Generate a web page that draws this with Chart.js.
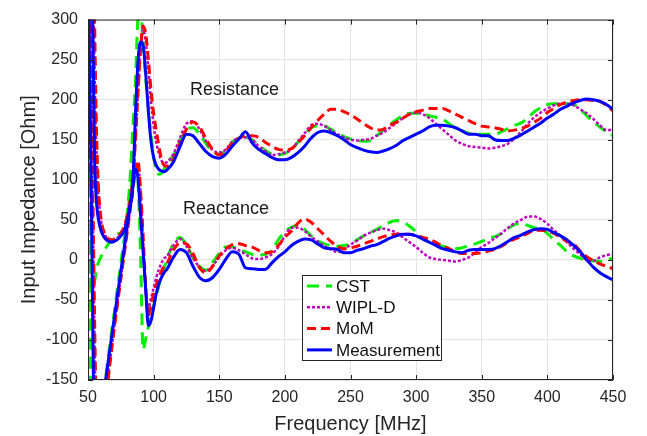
<!DOCTYPE html>
<html>
<head>
<meta charset="utf-8">
<script src="https://cdn.jsdelivr.net/npm/chart.js@4"></script>
<style>
  html, body { margin: 0; padding: 0; background: #fff; }
  #wrap { width: 647px; height: 436px; position: relative; }
</style>
</head>
<body>
<div id="wrap"><canvas id="chart"></canvas></div>
<script>
// frequency grid in MHz (finer where the curves are steep)
const freq = [50, 51, 52, 53, 54, 55, 56, 57, 58,
    60, 62, 64, 66, 68, 70, 72, 74, 76, 78, 80, 82, 84, 86, 88, 90, 92, 94, 96, 98, 100, 102, 104, 106, 108, 110,
    115, 120, 125, 130, 135, 140, 145, 150, 155, 160, 165, 170, 175, 180, 185, 190, 195, 200, 205, 210,
    215, 220, 225, 230, 235, 240, 245, 250, 255, 260, 265, 270, 275, 280, 285, 290, 295, 300, 305, 310,
    315, 320, 325, 330, 335, 340, 345, 350, 355, 360, 365, 370, 375, 380, 385, 390, 395, 400, 405, 410,
    415, 420, 425, 430, 435, 440, 445, 450];

// resistance curves
const cstR = [120, 30, -25, -38, -33, -27, -18, -9, -3,
    4, 11, 16, 21, 26, 29, 32, 33, 35, 38, 60, 100, 160, 215, 300, 315, 270, 225, 190, 155, 128, 113, 107, 108, 113, 120,
    130, 148, 162, 165, 157, 145, 135, 132, 137, 147, 152, 153, 150, 143, 137, 132, 131, 133, 138, 147,
    156, 165, 167, 167, 163, 158, 154, 151, 149, 148, 149, 155, 162, 169, 175, 180, 183, 183, 182, 180,
    178, 176, 170, 165, 161, 158, 157, 157, 157, 157, 160, 164, 168, 171, 177, 185, 190, 194, 195, 195,
    195, 194, 188, 180, 172, 166, 160, 155];
const wiplR = [190, 330, 400, 390, 330, 240, 160, 110, 80,
    48, 35, 28, 25, 24, 25, 27, 30, 35, 43, 55, 73, 98, 145, 205, 260, 288, 272, 238, 198, 168, 147, 133, 124, 121, 122,
    132, 152, 170, 173, 163, 148, 137, 134, 138, 148, 152, 153, 150, 142, 136, 131, 132, 134, 138, 148,
    158, 168, 170, 167, 162, 157, 153, 150, 149, 150, 151, 155, 159, 165, 171, 177, 182, 184, 182, 177,
    170, 163, 156, 149, 145, 142, 141, 140, 139, 140, 142, 145, 152, 160, 170, 178, 184, 189, 193, 195,
    195, 193, 188, 183, 176, 168, 162, 162];
const momR = [92, 200, 330, 400, 380, 300, 200, 130, 90,
    50, 36, 29, 26, 25, 26, 28, 31, 36, 44, 56, 74, 100, 145, 205, 262, 292, 282, 250, 212, 183, 162, 142, 126, 118, 117,
    125, 145, 163, 172, 166, 151, 138, 131, 136, 146, 152, 155, 155, 153, 147, 142, 138, 137, 139, 146,
    155, 165, 174, 182, 188, 188, 185, 181, 176, 170, 165, 162, 163, 168, 172, 177, 182, 185, 187, 189,
    189, 189, 186, 182, 178, 174, 170, 167, 166, 165, 163, 161, 162, 164, 167, 172, 177, 184, 189, 194,
    197, 199, 200, 200, 199, 198, 193, 186];
const measR = [210, 320, 380, 360, 250, 130, 85, 62, 50,
    36, 29, 25, 23, 22, 23, 25, 28, 32, 38, 50, 67, 88, 175, 245, 272, 268, 232, 185, 148, 128, 118, 113, 111, 110, 112,
    122, 141, 157, 155, 145, 135, 129, 127, 132, 142, 151, 160, 146, 138, 133, 128, 125, 125, 128, 134,
    142, 152, 159, 161, 159, 155, 150, 144, 140, 137, 135, 134, 136, 139, 143, 149, 153, 157, 161, 166,
    168, 168, 167, 165, 161, 157, 157, 155, 155, 150, 149, 149, 152, 156, 161, 166, 171, 177, 182, 188,
    192, 196, 199, 201, 200, 198, 194, 188];

// reactance curves
const cstX = [330, 80, -150, -260, -300, -310, -300, -285, -250,
    -210, -172, -140, -114, -90, -66, -41, -17, 7, 31, 56, 80, 104, 118, 100, 10, -112, -98, -84, -70, -57, -45, -32, -20, -10, 0,
    20, 28, 19, 3, -8, -13, -3, 8, 16, 16, 13, 10, 7, 6, 7, 12, 25, 35, 41, 43,
    38, 30, 24, 20, 18, 17, 18, 20, 25, 30, 34, 38, 43, 47, 49, 47, 42, 35, 27, 22,
    18, 17, 15, 14, 15, 18, 20, 23, 27, 29, 33, 39, 44, 45, 43, 40, 39, 33, 25, 18,
    10, 5, 2, 0, -1, -2, 0, 2];
const wiplX = [430, 350, 260, 140, 20, -100, -190, -240, -260,
    -245, -205, -165, -137, -110, -84, -59, -34, -10, 14, 38, 62, 87, 110, 120, 85, 25, -38, -62, -48, -35, -22, -12, -4, 2, 4,
    18, 26, 17, 2, -9, -14, -7, 3, 12, 15, 12, 7, 2, 1, 3, 7, 16, 30, 40, 40,
    36, 29, 23, 17, 13, 10, 13, 19, 24, 30, 34, 37, 39, 37, 34, 28, 22, 16, 9, 3,
    1, 0, -1, -2, 0, 3, 9, 16, 21, 27, 33, 40, 46, 50, 54, 54, 51, 45, 37, 30,
    22, 14, 7, 0, -1, 3, 6, 7];
const momX = [450, 380, 290, 170, 50, -70, -170, -230, -260,
    -250, -210, -170, -140, -112, -86, -61, -36, -12, 12, 36, 60, 85, 110, 124, 88, 30, -35, -70, -57, -42, -31, -22, -14, -8, -5,
    12, 21, 20, 8, -10, -16, -8, 5, 14, 19, 20, 18, 16, 12, 9, 10, 18, 28, 36, 46,
    51, 47, 39, 31, 23, 17, 14, 15, 17, 20, 23, 26, 29, 31, 32, 32, 32, 30, 28, 26,
    22, 17, 14, 10, 8, 8, 8, 9, 11, 13, 17, 22, 26, 29, 33, 37, 37, 36, 33, 28,
    23, 20, 11, 4, -1, -5, -8, -11];
const measX = [330, 260, 150, 10, -130, -200, -225, -230, -220,
    -190, -166, -143, -120, -96, -73, -49, -26, -3, 20, 44, 67, 90, 113, 103, 57, 10, -38, -82, -76, -60, -42, -30, -22, -16, -12,
    3, 13, 9, -8, -22, -26, -22, -12, 1, 10, 7, -10, -11, -12, -12, -4, 4, 10, 18, 23,
    26, 25, 20, 15, 14, 13, 9, 9, 12, 14, 17, 19, 23, 27, 30, 32, 32, 30, 26, 22,
    18, 14, 12, 10, 9, 12, 13, 13, 13, 14, 18, 23, 28, 31, 35, 38, 39, 38, 34, 30,
    25, 18, 10, 0, -9, -16, -21, -25];

const methodNames = ['CST', 'WIPL-D', 'MoM', 'Measurement'];
const yTicksMin = -150, yTicksMax = 300, xTicksMin = 50, xTicksMax = 450;

const styles = {
    'CST': { color: '#00ee00', width: 3, dash: [12, 7], order: 3 },
    'WIPL-D': { color: '#bf00bf', width: 2.5, dash: [3, 2], order: 2 },
    'MoM': { color: '#ff0000', width: 3, dash: [9, 5], order: 1 },
    'Measurement': { color: '#0000ff', width: 3, dash: [], order: 0 }
};

function to_points(values) {
    return freq.map((f, i) => ({ x: f, y: values[i] }));
}

function make_dataset(name, values) {
    const s = styles[name];
    return {
        label: name,
        data: to_points(values),
        borderColor: s.color,
        backgroundColor: s.color,
        borderWidth: s.width,
        borderDash: s.dash,
        pointRadius: 0,
        fill: false,
        cubicInterpolationMode: 'monotone',
        clip: 0,
        order: s.order
    };
}

const series = [
    ['CST', cstR], ['CST', cstX],
    ['WIPL-D', wiplR], ['WIPL-D', wiplX],
    ['MoM', momR], ['MoM', momX],
    ['Measurement', measR], ['Measurement', measX]
];

const FONT = '"Liberation Sans", Arial, Helvetica, sans-serif';
const AXIS_COLOR = '#262626';

// box, inward ticks, text labels and legend (matlab look)
const decor = {
    id: 'decor',
    afterDraw(chart) {
        const { ctx, chartArea: a, scales } = chart;
        ctx.save();
        ctx.strokeStyle = AXIS_COLOR;
        ctx.lineWidth = 1;
        ctx.setLineDash([]);
        ctx.strokeRect(a.left + 0.5, a.top + 0.5, a.right - a.left - 1, a.bottom - a.top - 1);
        // ticks
        ctx.beginPath();
        for (let v = xTicksMin; v <= xTicksMax; v += 50) {
            const px = Math.round(scales.x.getPixelForValue(v)) + 0.5;
            ctx.moveTo(px, a.bottom); ctx.lineTo(px, a.bottom - 5);
            ctx.moveTo(px, a.top); ctx.lineTo(px, a.top + 5);
        }
        for (let v = yTicksMin; v <= yTicksMax; v += 50) {
            const py = Math.round(scales.y.getPixelForValue(v)) + 0.5;
            ctx.moveTo(a.left, py); ctx.lineTo(a.left + 5, py);
            ctx.moveTo(a.right, py); ctx.lineTo(a.right - 5, py);
        }
        ctx.stroke();

        // curve group labels
        ctx.fillStyle = '#1a1a1a';
        ctx.font = '18px ' + FONT;
        ctx.textAlign = 'left';
        ctx.textBaseline = 'middle';
        ctx.fillText('Resistance', scales.x.getPixelForValue(127.7), scales.y.getPixelForValue(212));
        ctx.fillText('Reactance', scales.x.getPixelForValue(122.4), scales.y.getPixelForValue(64));

        // legend
        const lx = 302, ly = 275, lw = 139, lh = 85;
        ctx.fillStyle = '#fff';
        ctx.fillRect(lx, ly, lw, lh);
        ctx.strokeStyle = AXIS_COLOR;
        ctx.lineWidth = 1;
        ctx.strokeRect(lx + 0.5, ly + 0.5, lw, lh);
        ctx.font = '17px ' + FONT;
        methodNames.forEach((name, i) => {
            const s = styles[name];
            const y = ly + 11 + i * 21.3;
            ctx.beginPath();
            ctx.strokeStyle = s.color;
            ctx.lineWidth = s.width;
            ctx.setLineDash(s.dash);
            ctx.moveTo(lx + 5, y);
            ctx.lineTo(lx + 30, y);
            ctx.stroke();
            ctx.setLineDash([]);
            ctx.fillStyle = '#111';
            ctx.fillText(name, lx + 34, y + 1);
        });
        ctx.restore();
    }
};

new Chart(document.getElementById('chart'), {
    type: 'line',
    data: { datasets: series.map(([name, values]) => make_dataset(name, values)) },
    options: {
        responsive: true,
        maintainAspectRatio: false,
        animation: false,
        layout: { padding: { left: 0, top: 14, right: 34, bottom: 0 } },
        plugins: { legend: { display: false }, tooltip: { enabled: false } },
        scales: {
            x: {
                type: 'linear',
                min: xTicksMin,
                max: xTicksMax,
                afterFit(scale) { scale.height = 56; },
                ticks: { stepSize: 50, font: { size: 16, family: FONT }, color: AXIS_COLOR, padding: 8, maxRotation: 0 },
                grid: { color: '#e3e3e3', drawTicks: false },
                border: { display: false },
                title: { display: true, text: 'Frequency [MHz]', font: { size: 20, family: FONT }, color: AXIS_COLOR, padding: { top: 0, bottom: 0 } }
            },
            y: {
                min: yTicksMin,
                max: yTicksMax,
                afterFit(scale) { scale.width = 88; },
                ticks: { stepSize: 50, font: { size: 16, family: FONT }, color: AXIS_COLOR, padding: 10 },
                grid: { color: '#e3e3e3', drawTicks: false },
                border: { display: false },
                title: { display: true, text: 'Input Impedance [Ohm]', font: { size: 20, family: FONT }, color: AXIS_COLOR, padding: { top: 17, bottom: 0 } }
            }
        }
    },
    plugins: [decor]
});
</script>
</body>
</html>
